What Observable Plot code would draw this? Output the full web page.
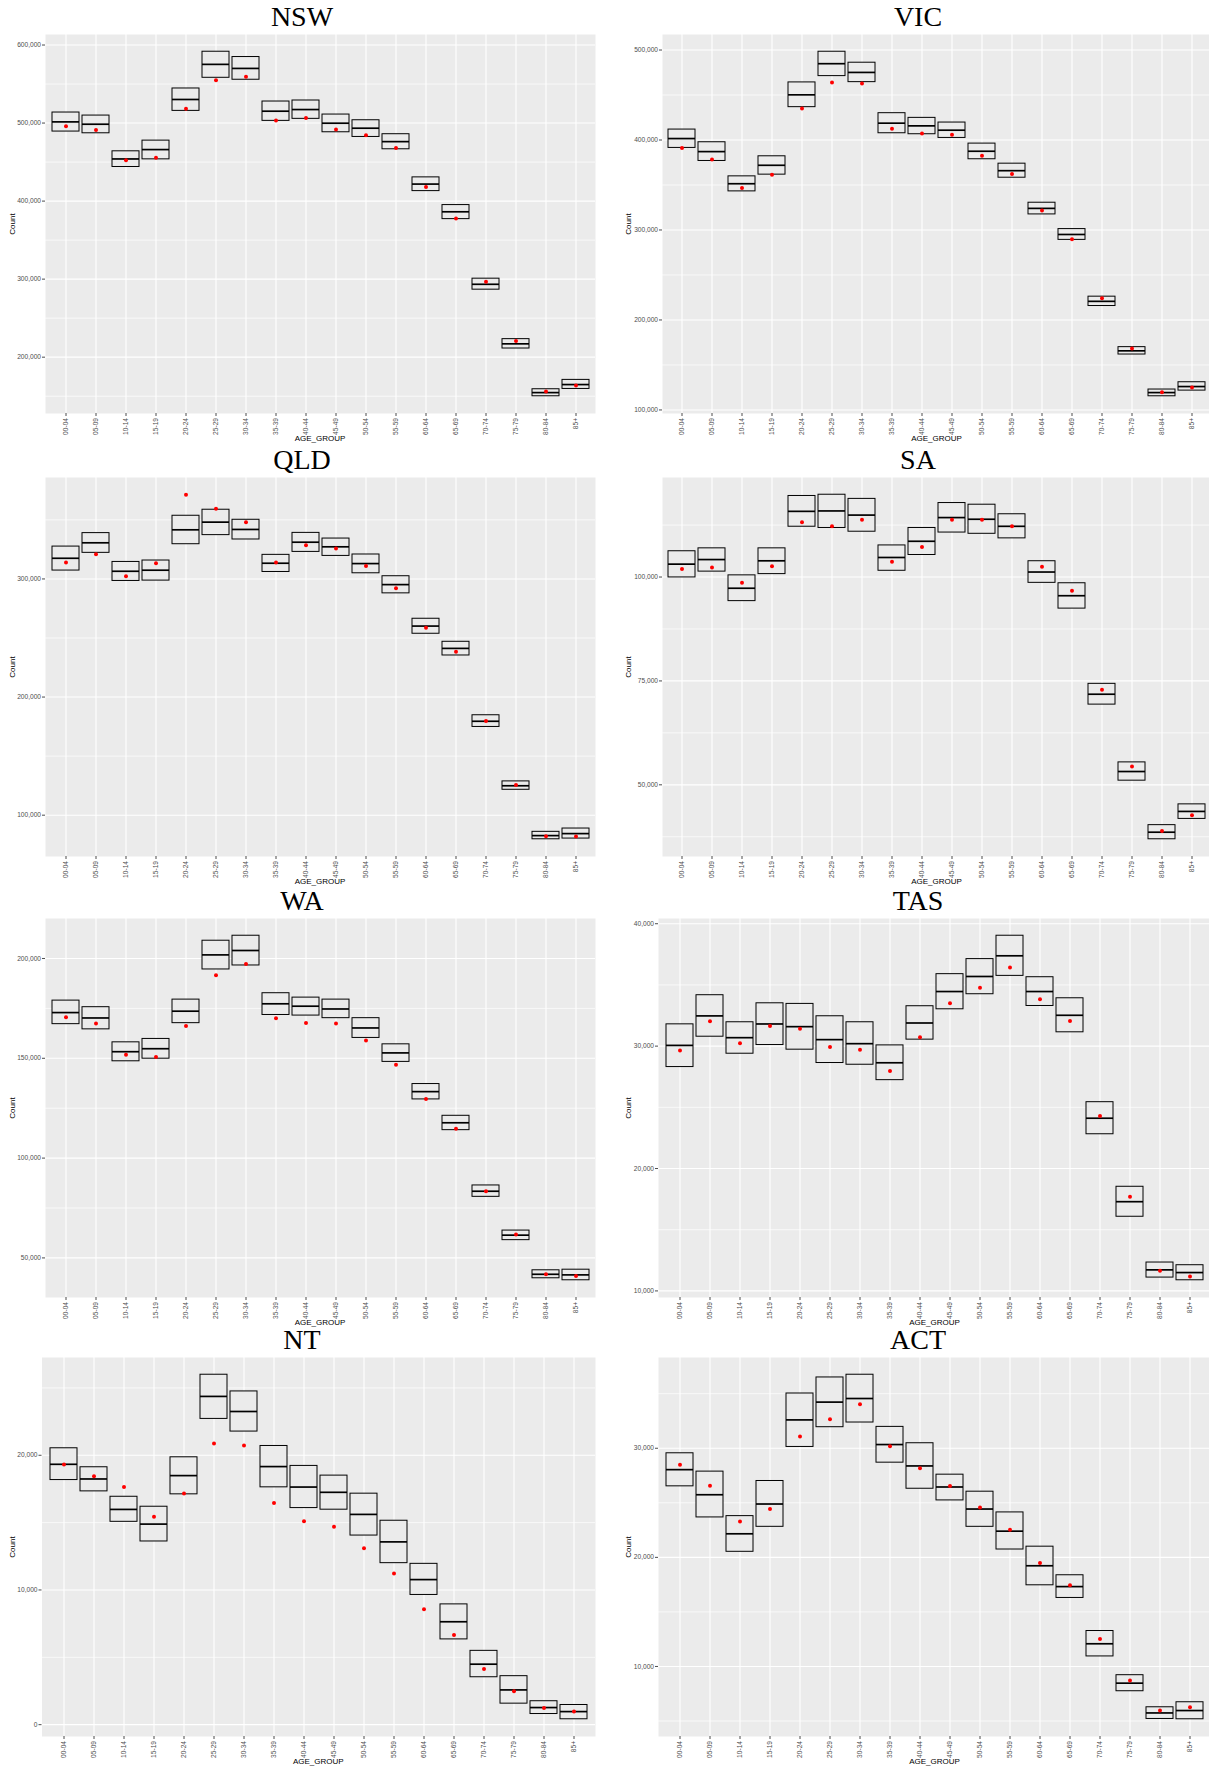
<!DOCTYPE html>
<html><head><meta charset="utf-8">
<script src="https://cdn.jsdelivr.net/npm/d3@7"></script>
<script src="https://cdn.jsdelivr.net/npm/@observablehq/plot@0.6"></script>
<style>
html,body{margin:0;padding:0;background:#fff;}
#root{position:relative;width:1209px;height:1769px;overflow:hidden;background:#fff;}
.panel{position:absolute;width:605px;height:444px;}
.title{position:absolute;left:0;width:604px;top:3px;height:28px;line-height:28px;text-align:center;font-family:"Liberation Serif","Times New Roman",serif;font-weight:normal;font-size:28px;color:#000;}
.ylab{position:absolute;font-family:"Liberation Sans",Arial,sans-serif;font-size:8px;color:#000;transform:translate(-50%,-50%) rotate(-90deg);white-space:nowrap;}
.xlab{position:absolute;font-family:"Liberation Sans",Arial,sans-serif;font-size:8px;color:#000;transform:translate(-50%,-50%);white-space:nowrap;}
.plot{position:absolute;left:0;top:30px;}
</style></head><body><div id="root"></div>
<script>
const ages = ["00-04","05-09","10-14","15-19","20-24","25-29","30-34","35-39","40-44","45-49","50-54","55-59","60-64","65-69","70-74","75-79","80-84","85+"];

const NSW_lo  = [489100,486900,443700,453500,515600,558000,555500,502800,505400,488200,482200,466400,412800,376900,286500,211100,149900,159300];
const NSW_mid = [501500,498500,454000,466000,530200,575200,570000,515200,517300,499800,493400,476200,421800,386300,293400,217100,154600,164900];
const NSW_hi  = [513500,509600,463800,477500,544300,591400,584600,527600,528900,510900,503600,485700,430400,394900,300600,223100,158900,170900];
const NSW_obs = [495900,491200,452200,455700,518200,555000,559300,503200,506600,491600,484400,468100,418000,377700,296800,220600,155900,163600];
const NSW_ticks = [200000,300000,400000,500000,600000];
const NSW_minor = [150000,250000,350000,450000,550000];

const VIC_lo  = [391200,376700,342900,361500,436500,471000,464300,407500,406400,402300,378600,358100,317300,289000,215500,161600,115200,121500];
const VIC_mid = [401600,387100,351400,371900,450200,484800,475100,418700,415700,410900,387500,365900,324000,295000,220700,165700,119300,126000];
const VIC_hi  = [411600,397500,359600,381900,464000,498100,485900,429800,424600,419400,396000,373700,330300,301000,225900,169800,122700,130800];
const VIC_obs = [391200,378200,346600,361500,435000,464000,462900,412400,407100,405700,382600,362200,321700,289800,224000,168300,119700,124900];
const VIC_ticks = [100000,200000,300000,400000,500000];
const VIC_minor = [150000,250000,350000,450000];

const QLD_lo  = [307100,322100,298300,298600,329400,337100,333400,305900,322900,319500,304800,287800,253600,235200,174700,121500,79600,80200];
const QLD_mid = [317500,330600,306500,307400,341600,348100,341900,313300,331100,327200,313000,295200,260100,241200,179500,124900,82700,84400];
const QLD_hi  = [327400,338800,314400,315600,353500,358600,350100,320400,339000,334200,320700,302300,266300,246800,184600,128600,85900,88700];
const QLD_obs = [313900,320900,302300,313300,371300,359400,348100,313900,328600,325700,311000,292100,258700,238300,179800,125500,82200,81900];
const QLD_ticks = [100000,200000,300000];
const QLD_minor = [150000,250000,350000];

const SA_lo  = [99900,101300,94200,100700,112100,111800,110900,101500,105300,110700,110400,109300,98600,92400,69300,51000,36900,41800];
const SA_mid = [103100,104200,97300,103900,115800,115900,114900,104700,108600,114300,113900,112200,101200,95500,71800,53200,38600,43600];
const SA_hi  = [106200,106900,100400,106900,119500,119800,118800,107600,111800,117800,117400,115100,103800,98500,74300,55400,40300,45300];
const SA_obs = [101900,102300,98600,102600,113200,112200,113800,103700,107200,113800,113800,112200,102500,96700,72900,54400,38900,42700];
const SA_ticks = [50000,75000,100000];
const SA_minor = [37500,62500,87500,112500];

const WA_lo  = [167100,164500,148500,149800,167600,194500,196500,171700,171400,170100,160200,148200,129400,114000,80600,58900,39800,38800];
const WA_mid = [172900,170200,153300,154800,173600,201800,204000,177300,176100,174700,165200,152700,133300,117700,83400,61400,41800,41500];
const WA_hi  = [178900,175600,158000,159700,179400,208900,211400,182600,180400,179400,170100,157000,137100,121200,86300,63700,43800,44100];
const WA_obs = [170600,167400,151800,150700,166200,191600,197200,170100,167700,167400,158900,146800,129600,114700,83400,61700,41800,41000];
const WA_ticks = [50000,100000,150000,200000];
const WA_minor = [75000,125000,175000];

const TAS_lo  = [28290,30770,29380,30090,29710,28620,28480,27220,30530,33010,34240,35740,33280,31130,22800,16060,11090,10870];
const TAS_mid = [30060,32470,30690,31810,31590,30530,30200,28640,31890,34460,35690,37380,34460,32520,24110,17290,11720,11500];
const TAS_hi  = [31780,34160,31950,33500,33450,32440,31950,30060,33260,35880,37110,39020,35630,33910,25420,18510,12320,12100];
const TAS_obs = [29650,32030,30230,31650,31430,29930,29710,27960,30720,33500,34760,36420,33830,32060,24300,17700,11640,11170];
const TAS_ticks = [10000,20000,30000,40000];
const TAS_minor = [15000,25000,35000];

const NT_lo  = [18160,17320,15060,13600,17100,22700,21760,17620,16080,15960,14040,11990,9630,6330,3520,1560,790,400];
const NT_mid = [19330,18240,15980,14890,18490,24370,23250,19160,17640,17250,15610,13570,10770,7640,4490,2580,1270,970];
const NT_hi  = [20520,19110,16920,16180,19850,25980,24740,20690,19210,18490,17150,15140,11940,8930,5480,3600,1740,1460];
const NT_obs = [19310,18440,17640,15430,17170,20870,20720,16450,15110,14690,13100,11220,8560,6650,4140,2480,1240,970];
const NT_ticks = [0,10000,20000];
const NT_minor = [5000,15000,25000];

const ACT_lo  = [26510,23660,20510,22800,30120,31930,32360,28680,26290,25220,22800,20720,17440,16280,10920,7730,5190,5160];
const ACT_mid = [28040,25740,22160,24890,32600,34230,34560,30340,28380,26450,24430,22400,19230,17320,12080,8470,5740,5960];
const ACT_hi  = [29540,27860,23780,27000,35020,36490,36740,31960,30460,27580,26020,24120,20980,18360,13250,9200,6260,6720];
const ACT_obs = [28500,26570,23290,24430,31070,32660,34040,30180,28160,26540,24580,22530,19490,17440,12510,8710,5960,6260];
const ACT_ticks = [10000,20000,30000];
const ACT_minor = [5000,15000,25000,35000];

const root = document.getElementById("root");
const fmt = d3.format(",");

function panel(name, lo, mid, hi, obs, ticks, minor, ml, left, top) {
  const rows = ages.map((a, i) => ({age: a, lo: lo[i], mid: mid[i], hi: hi[i], obs: obs[i]}));
  const all = lo.concat(hi, obs, mid);
  const mn = d3.min(all), mx = d3.max(all), pad = (mx - mn) * 0.05;
  const W = 605, mt = 4, mb = 26, plotH = 379, mr = 10;
  const chart = Plot.plot({
    width: W, height: plotH + mt + mb,
    marginTop: mt, marginBottom: mb, marginLeft: ml, marginRight: mr,
    style: {fontFamily: "Liberation Sans, Arial, sans-serif", fontSize: "6.6px", color: "#4D4D4D", background: "transparent", overflow: "visible"},
    x: {type: "band", domain: ages, paddingInner: 0.1, paddingOuter: 0.15, label: null},
    y: {domain: [mn - pad, mx + pad], label: null},
    marks: [
      Plot.frame({fill: "#EBEBEB", stroke: "none"}),
      Plot.gridY({ticks: minor, stroke: "white", strokeOpacity: 1, strokeWidth: 0.7}),
      Plot.gridY({ticks: ticks, stroke: "white", strokeOpacity: 1, strokeWidth: 1.1}),
      Plot.gridX({stroke: "white", strokeOpacity: 1, strokeWidth: 1.1}),
      Plot.barY(rows, {x: "age", y1: "lo", y2: "hi", fill: "#EBEBEB", stroke: "black", strokeWidth: 1}),
      Plot.tickY(rows, {x: "age", y: "mid", stroke: "black", strokeWidth: 1.7}),
      Plot.dot(rows, {x: "age", y: "obs", r: 2, fill: "red", stroke: "none"}),
      Plot.axisY({ticks: ticks, tickFormat: fmt, tickSize: 3, tickPadding: 1.5, label: null}),
      Plot.axisX({tickRotate: -90, tickSize: 3, tickPadding: 1.5, label: null})
    ]
  });
  const div = document.createElement("div");
  div.className = "panel";
  div.style.left = left + "px";
  div.style.top = top + "px";
  const t = document.createElement("div");
  t.className = "title"; t.textContent = name;
  div.appendChild(t);
  chart.classList.add("plot");
  div.appendChild(chart);
  const yl = document.createElement("div");
  yl.className = "ylab"; yl.textContent = "Count";
  yl.style.left = "12px"; yl.style.top = (30 + mt + plotH / 2) + "px";
  div.appendChild(yl);
  const xl = document.createElement("div");
  xl.className = "xlab"; xl.textContent = "AGE_GROUP";
  xl.style.left = ((ml + W - mr) / 2) + "px"; xl.style.top = "438px";
  div.appendChild(xl);
  root.appendChild(div);
}

const colL = 0, colR = 616;
const rowT = [0, 443, 884, 1323];
panel("NSW", NSW_lo, NSW_mid, NSW_hi, NSW_obs, NSW_ticks, NSW_minor, 45, colL, rowT[0]);
panel("VIC", VIC_lo, VIC_mid, VIC_hi, VIC_obs, VIC_ticks, VIC_minor, 46, colR, rowT[0]);
panel("QLD", QLD_lo, QLD_mid, QLD_hi, QLD_obs, QLD_ticks, QLD_minor, 45, colL, rowT[1]);
panel("SA", SA_lo, SA_mid, SA_hi, SA_obs, SA_ticks, SA_minor, 46, colR, rowT[1]);
panel("WA", WA_lo, WA_mid, WA_hi, WA_obs, WA_ticks, WA_minor, 45, colL, rowT[2]);
panel("TAS", TAS_lo, TAS_mid, TAS_hi, TAS_obs, TAS_ticks, TAS_minor, 42, colR, rowT[2]);
panel("NT", NT_lo, NT_mid, NT_hi, NT_obs, NT_ticks, NT_minor, 41.5, colL, rowT[3]);
panel("ACT", ACT_lo, ACT_mid, ACT_hi, ACT_obs, ACT_ticks, ACT_minor, 42, colR, rowT[3]);
</script></body></html>
